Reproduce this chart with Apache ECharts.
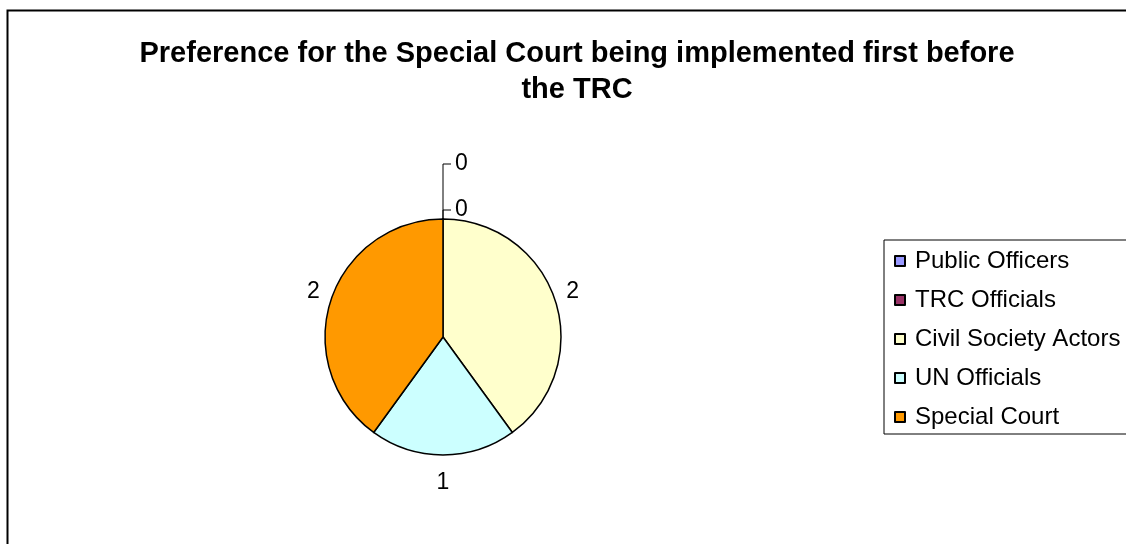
<!DOCTYPE html>
<html>
<head>
<meta charset="utf-8">
<script src="https://cdn.jsdelivr.net/npm/echarts@6/dist/echarts.min.js"></script>
<style>
html, body { margin: 0; padding: 0; background: #fff; }
#main { width: 1126px; height: 544px; }
</style>
</head>
<body>
<div id="main"></div>
<script>
// groups asked, and how many preferred the Special Court first
var groups = ["Public Officers", "TRC Officials", "Civil Society Actors", "UN Officials", "Special Court"];
var counts = [0, 0, 2, 1, 2];
var colors = ["#9999ff", "#993366", "#ffffcc", "#ccffff", "#ff9900"];

var pieCenter = [443, 337];
var pieRadius = 118;

var chart = echarts.init(document.getElementById("main"));

var pieData = groups.map(function (name, i) {
  return { name: name, value: counts[i], itemStyle: { color: colors[i] } };
});

// zero slices sit at the top of the pie, stack their labels upward
var zeroOffsets = { 0: 55, 1: 9 };

var option = {
  backgroundColor: "#fff",
  textStyle: { fontFamily: "Liberation Sans, Arial, sans-serif" },
  title: {
    text: "Preference for the Special Court being implemented first before\nthe TRC",
    left: 572,
    top: 31,
    textAlign: "center",
    textStyle: { fontSize: 29, fontWeight: "bold", color: "#000", lineHeight: 36,
      fontFamily: "Liberation Sans, Arial, sans-serif" }
  },
  legend: {
    orient: "vertical",
    left: 884,
    top: 240,
    padding: [9, 40, 5, 10],
    itemWidth: 10,
    itemHeight: 10,
    itemGap: 15,
    borderColor: "#000",
    borderWidth: 1,
    icon: "rect",
    textStyle: { fontSize: 24, color: "#000", padding: [0, 0, 0, 5] },
    data: groups
  },
  graphic: [{
    type: "rect",
    shape: { x: 7.5, y: 10.5, width: 1200, height: 600 },
    style: { fill: "none", stroke: "#000", lineWidth: 2 },
    silent: true
  }],
  series: [{
    type: "pie",
    center: pieCenter,
    radius: pieRadius,
    startAngle: 90,
    clockwise: true,
    animation: false,
    avoidLabelOverlap: false,
    stillShowZeroSum: true,
    itemStyle: { borderColor: "#000", borderWidth: 1.5 },
    emphasis: { disabled: true },
    label: {
      show: true,
      position: "outside",
      formatter: "{c}",
      fontSize: 23,
      color: "#000"
    },
    labelLine: { show: true, length: 8, length2: 4, lineStyle: { color: "#000", width: 1 } },
    labelLayout: function (params) {
      var i = params.dataIndex;
      var p = params.labelLinePoints[0];
      if (counts[i] === 0) {
        var y = p[1] - zeroOffsets[i];
        return {
          x: p[0] + 12,
          y: y,
          align: "left",
          verticalAlign: "middle",
          labelLinePoints: [[p[0], p[1]], [p[0], y], [p[0] + 8, y]]
        };
      }
      // place the label just off the edge, along the slice's middle direction
      var dx = p[0] - pieCenter[0], dy = p[1] - pieCenter[1];
      var len = Math.sqrt(dx * dx + dy * dy);
      dx /= len; dy /= len;
      var w = params.labelRect.width, h = params.labelRect.height;
      var gap = 12;
      return {
        x: pieCenter[0] + (pieRadius + gap) * dx + dx * w / 2,
        y: pieCenter[1] + (pieRadius + gap) * dy + dy * h / 2 + dy * 4,
        align: "center",
        verticalAlign: "middle",
        labelLinePoints: [[p[0], p[1]], [p[0], p[1]], [p[0], p[1]]]
      };
    },
    data: pieData
  }]
};

chart.setOption(option);
</script>
</body>
</html>
